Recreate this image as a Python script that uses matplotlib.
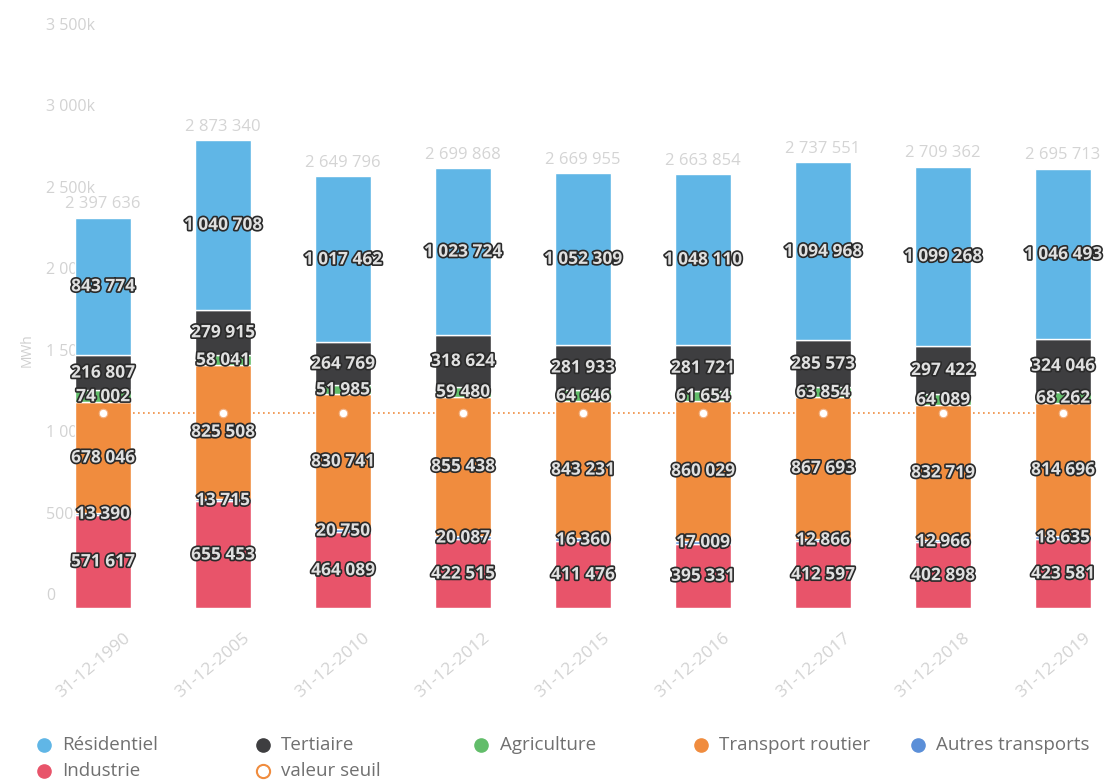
import matplotlib
matplotlib.use("Agg")
import matplotlib.pyplot as plt
import matplotlib.patheffects as pe
from matplotlib.transforms import ScaledTranslation
import numpy as np

plt.rcParams['font.family'] = ['Open Sans', 'DejaVu Sans']

categories = ['31-12-1990', '31-12-2005', '31-12-2010', '31-12-2012', '31-12-2015',
              '31-12-2016', '31-12-2017', '31-12-2018', '31-12-2019']
industrie = [571617, 655453, 464089, 422515, 411476, 395331, 412597, 402898, 423581]
autres_transports = [13390, 13715, 20750, 20087, 16360, 17009, 12866, 12966, 18635]
transport_routier = [678046, 825508, 830741, 855438, 843231, 860029, 867693, 832719, 814696]
agriculture = [74002, 58041, 51985, 59480, 64646, 61654, 63854, 64089, 68262]
tertiaire = [216807, 279915, 264769, 318624, 281933, 281721, 285573, 297422, 324046]
residentiel = [843774, 1040708, 1017462, 1023724, 1052309, 1048110, 1094968, 1099268, 1046493]
valeur_seuil = [1200000] * 9
y_ticks = [0, 500000, 1000000, 1500000, 2000000, 2500000, 3000000, 3500000]
y_tick_labels = ['0', '500k', '1 000k', '1 500k', '2 000k', '2 500k', '3 000k', '3 500k']

# stacking order bottom -> top
series = [
    ('Industrie', industrie, '#e8546a'),
    ('Autres transports', autres_transports, '#5b8fd8'),
    ('Transport routier', transport_routier, '#f08c3e'),
    ('Agriculture', agriculture, '#62bd6a'),
    ('Tertiaire', tertiaire, '#3e3e40'),
    ('Résidentiel', residentiel, '#60b6e6'),
]

W, H, DPI = 1110, 783, 100
fig = plt.figure(figsize=(W / DPI, H / DPI), dpi=DPI)
fig.patch.set_facecolor('white')

base_px = 608
top_px = 38
ax = fig.add_axes([0, (H - base_px) / H, 1, (base_px - top_px) / H])
x = np.arange(len(categories))
ax.set_xlim((0 - 103) / 120, (W - 103) / 120)
ax.set_ylim(0, 3500000)

def fmt(v):
    return f"{int(round(v)):,}".replace(',', ' ')

bottom = np.zeros(len(categories))
label_fx = [pe.withStroke(linewidth=2.4, foreground='#2a2a2a')]
for name, vals, col in series:
    vals = np.array(vals, dtype=float)
    ax.bar(x, vals, width=0.47, bottom=bottom, color=col, edgecolor='white',
           linewidth=1.0, zorder=2)
    for xi, b, v in zip(x, bottom, vals):
        ax.text(xi, b + v / 2, fmt(v), ha='center', va='center', fontsize=12.5,
                fontweight='bold', color='#e0e0e0', path_effects=label_fx, zorder=5)
    bottom = bottom + vals

totals = bottom
for xi, t in zip(x, totals):
    ax.annotate(fmt(t), (xi, t), xytext=(0, 4), textcoords='offset points',
                ha='center', va='bottom', fontsize=12, color='#d4d4d4', zorder=5)

# threshold line
ax.plot(x, valeur_seuil, linestyle=(0, (1, 2)), color='#f08c3e', linewidth=1.2, zorder=1)
ax.scatter(x, valeur_seuil, s=38, color='white', edgecolor='#f3b080', linewidth=0.8, zorder=4)

for s in ax.spines.values():
    s.set_visible(False)
ax.set_yticks(y_ticks)
ax.set_yticklabels(y_tick_labels)
ax.tick_params(axis='y', length=0, pad=-33, labelsize=11.5, labelcolor='#d2d2d2')
for lab in ax.get_yticklabels():
    lab.set_horizontalalignment('left')
    lab.set_transform(lab.get_transform() + ScaledTranslation(0, 14 / DPI, fig.dpi_scale_trans))

ax.set_xticks(x)
ax.set_xticklabels(categories, rotation=40, ha='right', rotation_mode='anchor')
ax.tick_params(axis='x', length=0, pad=16, labelsize=12.5, labelcolor='#d2d2d2')
for lab in ax.get_xticklabels():
    lab.set_transform(lab.get_transform() + ScaledTranslation(20 / DPI, 0, fig.dpi_scale_trans))

fig.text(27 / W, 1 - 350 / H, 'MWh', rotation=90, ha='center', va='center',
         fontsize=10, color='#cfcfcf')

# legend drawn in pixel space
lax = fig.add_axes([0, 0, 1, 1])
lax.set_xlim(0, W)
lax.set_ylim(H, 0)
lax.axis('off')
legend_items = [
    ('Résidentiel', '#60b6e6', 44, 62, 745, 'dot'),
    ('Tertiaire', '#3e3e40', 263, 281, 745, 'dot'),
    ('Agriculture', '#62bd6a', 481, 500, 745, 'dot'),
    ('Transport routier', '#f08c3e', 701, 719, 745, 'dot'),
    ('Autres transports', '#5b8fd8', 918, 936, 745, 'dot'),
    ('Industrie', '#e8546a', 44, 62, 771, 'dot'),
    ('valeur seuil', '#f08c3e', 263, 281, 771, 'hollow'),
]
for name, col, mx, tx, yy, kind in legend_items:
    if kind == 'dot':
        lax.plot([mx], [yy], marker='o', markersize=9.5, color=col, linestyle='none')
    else:
        lax.plot([mx], [yy], marker='o', markersize=9.5, markerfacecolor='white',
                 markeredgecolor=col, markeredgewidth=1.5, linestyle='none')
    lax.text(tx, yy, name, ha='left', va='center', fontsize=13.5, color='#707070')

fig.savefig('out.png', dpi=DPI)
